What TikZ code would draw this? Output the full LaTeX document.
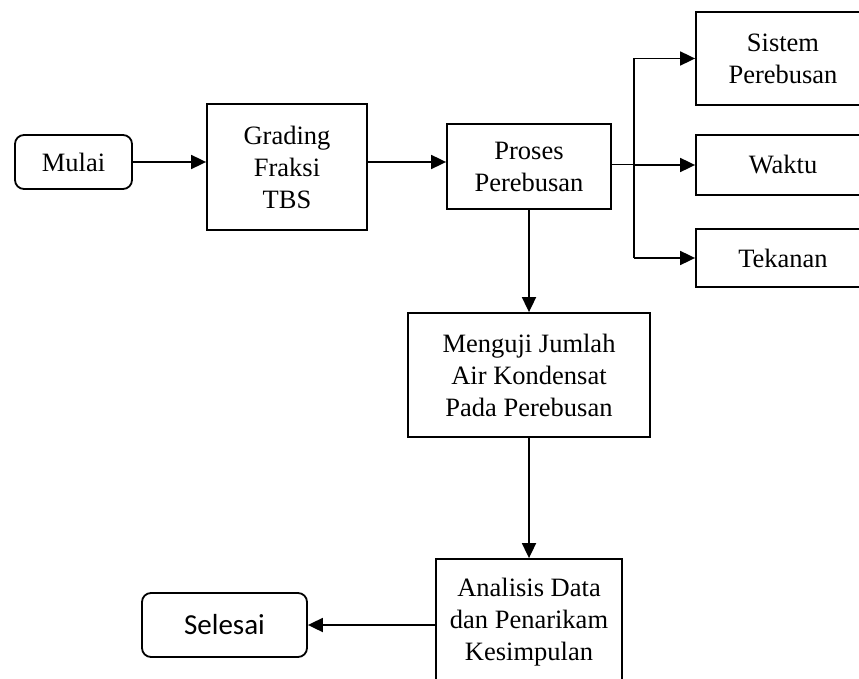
\documentclass[tikz,border=0pt]{standalone}
\usepackage{fontspec}
\setmainfont{Liberation Serif}
\newfontfamily\selesaifont{Carlito}
\usetikzlibrary{positioning,arrows.meta}

\begin{document}
\begin{tikzpicture}[x=1pt, y=-1pt, line width=1.8pt,
  every node/.style={draw, align=center, inner sep=0pt, font=\fontsize{26.5}{32}\selectfont},
  kotak/.style={rectangle},
  ujung/.style={rectangle, rounded corners=9pt},
  panah/.style={-{Triangle[length=15pt,width=14pt]}}]
            \useasboundingbox (0,0) rectangle (859,679);
            \node[ujung, minimum width=117pt, minimum height=54pt] (mulai) at (73.5,162) {Mulai};
            \node[kotak, minimum width=160pt, minimum height=126pt] (grading) at (287,167) {Grading\\Fraksi\\TBS};
            \node[kotak, minimum width=164pt, minimum height=85pt] (proses) at (529,166.5) {Proses\\Perebusan};
            \node[kotak, minimum width=174pt, minimum height=93pt] (sistem) at (783,58.5) {Sistem\\Perebusan};
            \node[kotak, minimum width=174pt, minimum height=60pt] (waktu) at (783,165) {Waktu};
            \node[kotak, minimum width=174pt, minimum height=58pt] (tekanan) at (783,258) {Tekanan};
            \node[kotak, minimum width=242pt, minimum height=124pt] (menguji) at (529,375) {Menguji Jumlah\\Air Kondensat\\Pada Perebusan};
            \node[kotak, minimum width=186pt, minimum height=126pt] (analisis) at (529,622) {Analisis Data\\dan Penarikam\\Kesimpulan};
            \node[ujung, minimum width=165pt, minimum height=64pt, font=\selesaifont\fontsize{29}{34}\selectfont] (selesai) at (224.5,625) {Selesai};
            \coordinate (cabang) at (634,165);
            % alur utama
            \draw[panah] (mulai.east) -- (mulai.east -| grading.west);
            \draw[panah] (grading.east |- mulai.east) -- (proses.west |- mulai.east);
            \draw[line width=1pt] (proses.east |- cabang) -- (cabang);
            \draw (cabang |- sistem.west) -- (cabang |- tekanan.west);
            \draw[panah] (cabang |- sistem.west) -- (sistem.west);
            \draw[panah] (cabang) -- (waktu.west);
            \draw[panah] (cabang |- tekanan.west) -- (tekanan.west);
            \draw[panah] (proses.south) -- (menguji.north);
            \draw[panah] (menguji.south) -- (analisis.north);
            \draw[panah] (analisis.west |- selesai.east) -- (selesai.east);
        \end{tikzpicture}
\end{document}
